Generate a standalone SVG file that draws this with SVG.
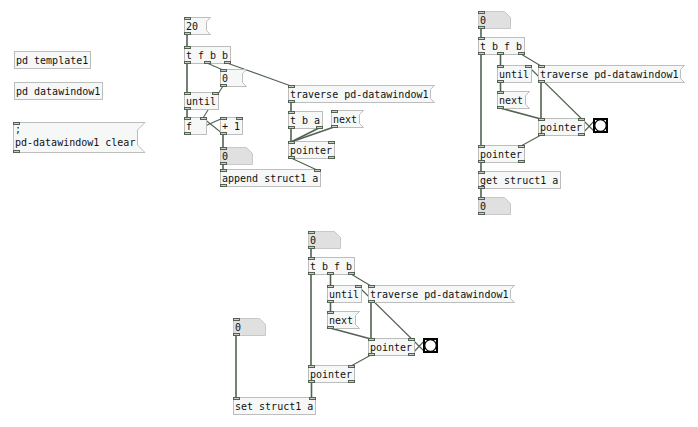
<svg xmlns="http://www.w3.org/2000/svg" width="698" height="427" viewBox="0 0 698 427">
<style>
.box{fill:#f6f8f8;stroke:#bdbdbd;stroke-width:1}
.atom{fill:#e0e0e0;stroke:#c8c8c8;stroke-width:1}
.io{fill:#c9d0c9;stroke:#536253;stroke-width:1}
.cord{stroke:#536253;stroke-width:1.6;fill:none}
.thin{stroke:#536253;stroke-width:1.1;fill:none}
text{font-family:"DejaVu Sans Mono","Liberation Mono",monospace;font-size:10px;fill:#111}
.bngbox{fill:#fff;stroke:#000;stroke-width:2}
.bngc{fill:#fff;stroke:#000;stroke-width:1.3}
</style>
<rect width="698" height="427" fill="#fff"/>

<g id="connectors">
<!-- patch 1 -->
<path class="cord" d="M187 34L187 47"/>
<path class="cord" d="M187 63L187 93"/>
<path class="thin" d="M207 63L223 70"/>
<path class="thin" d="M227 63L291 86"/>
<path class="thin" d="M223 86L203 118"/>
<path class="cord" d="M187 109L187 118"/>
<path class="thin" d="M187 134L223 118"/>
<path class="thin" d="M223 134L203 118"/>
<path class="cord" d="M223 134L223 148"/>
<path class="cord" d="M223 164L223 170"/>
<path class="cord" d="M291 102L291 112"/>
<path class="cord" d="M291 128L291 142"/>
<path class="cord" d="M319 128L291 142"/>
<path class="cord" d="M334 127L291 142"/>
<path class="thin" d="M291 158L317 170"/>
<!-- patch 2 -->
<path class="cord" d="M481 28L481 38"/>
<path class="cord" d="M481 54L481 146"/>
<path class="cord" d="M500.5 54L500.5 66"/>
<path class="thin" d="M521 54L541 66"/>
<path class="cord" d="M500.5 82L500.5 92"/>
<path class="cord" d="M500 108L541 119"/>
<path class="cord" d="M541 82L541 119"/>
<path class="thin" d="M541 135L521 146"/>
<path class="thin" d="M581 135L596 119"/>
<path class="thin" d="M596 133L528 66"/>
<path class="cord" d="M481 162L481 172"/>
<path class="cord" d="M481 188L481 198"/>
<!-- patch 3 -->
<path class="cord" d="M311 248L311 258"/>
<path class="cord" d="M311 274L311 366"/>
<path class="cord" d="M330.5 274L330.5 286"/>
<path class="thin" d="M351 274L371 286"/>
<path class="cord" d="M330.5 302L330.5 312"/>
<path class="cord" d="M330 328L371 339"/>
<path class="cord" d="M371 302L371 339"/>
<path class="thin" d="M371 355L351 366"/>
<path class="thin" d="M411 355L426 339"/>
<path class="thin" d="M426 353L358 286"/>
<path class="cord" d="M311.5 382L311.5 398"/>
<path class="cord" d="M236 335L236 398"/>
</g>

<!-- left column -->
<g id="pd_template1"><rect class="box" x="14.5" y="51.5" width="76" height="17"/><text x="16" y="64">pd template1</text></g>
<g id="pd_datawindow1"><rect class="box" x="14.5" y="82.5" width="88" height="17"/><text x="16" y="95">pd datawindow1</text></g>
<g id="msg_clear"><polygon class="box" points="13.5,122.5 145,122.5 137.5,130 137.5,145 145,152.5 13.5,152.5"/><rect class="io" x="13.5" y="122.5" width="6" height="2"/><rect class="io" x="13.5" y="150.5" width="6" height="2"/><text x="15" y="133">;</text><text x="15" y="146">pd-datawindow1 clear</text></g>

<!-- patch 1 -->
<g id="p1_msg20"><polygon class="box" points="184.5,17.5 210.5,17.5 206.5,21.5 206.5,30.5 210.5,34.5 184.5,34.5"/><rect class="io" x="184.5" y="17.5" width="6" height="2"/><rect class="io" x="184.5" y="32.5" width="6" height="2"/><text x="186" y="30">20</text></g>
<g id="p1_tfbb"><rect class="box" x="184.5" y="46.5" width="46" height="17"/><rect class="io" x="184.5" y="46.5" width="6" height="2"/><rect class="io" x="184.5" y="61.5" width="6" height="2"/><rect class="io" x="204.5" y="61.5" width="6" height="2"/><rect class="io" x="224.5" y="61.5" width="6" height="2"/><text x="186" y="59">t f b b</text></g>
<g id="p1_msg0"><polygon class="box" points="220.5,69.5 246.5,69.5 242.5,73.5 242.5,82.5 246.5,86.5 220.5,86.5"/><rect class="io" x="220.5" y="69.5" width="6" height="2"/><rect class="io" x="220.5" y="84.5" width="6" height="2"/><text x="222" y="82">0</text></g>
<g id="p1_until"><rect class="box" x="184.5" y="92.5" width="34" height="17"/><rect class="io" x="184.5" y="92.5" width="6" height="2"/><rect class="io" x="212.5" y="92.5" width="6" height="2"/><rect class="io" x="184.5" y="107.5" width="6" height="2"/><text x="186" y="105">until</text></g>
<g id="p1_f"><rect class="box" x="184.5" y="117.5" width="22" height="17"/><rect class="io" x="184.5" y="117.5" width="6" height="2"/><rect class="io" x="200.5" y="117.5" width="6" height="2"/><rect class="io" x="184.5" y="132.5" width="6" height="2"/><text x="186" y="130">f</text></g>
<g id="p1_plus1"><rect class="box" x="220.5" y="117.5" width="22" height="17"/><rect class="io" x="220.5" y="117.5" width="6" height="2"/><rect class="io" x="236.5" y="117.5" width="6" height="2"/><rect class="io" x="220.5" y="132.5" width="6" height="2"/><text x="222" y="130">+ 1</text></g>
<g id="p1_atom"><polygon class="atom" points="220.5,147.5 246.5,147.5 252.5,153.5 252.5,164.5 220.5,164.5"/><rect class="io" x="220.5" y="147.5" width="6" height="2"/><rect class="io" x="220.5" y="162.5" width="6" height="2"/><text x="222" y="160">0</text></g>
<g id="p1_append"><rect class="box" x="220.5" y="169.5" width="100" height="17"/><rect class="io" x="220.5" y="169.5" width="6" height="2"/><rect class="io" x="314.5" y="169.5" width="6" height="2"/><rect class="io" x="220.5" y="184.5" width="6" height="2"/><text x="222" y="182">append struct1 a</text></g>
<g id="p1_traverse"><polygon class="box" points="288.5,85.5 434.5,85.5 430.5,89.5 430.5,98.5 434.5,102.5 288.5,102.5"/><rect class="io" x="288.5" y="85.5" width="6" height="2"/><rect class="io" x="288.5" y="100.5" width="6" height="2"/><text x="290" y="98">traverse pd-datawindow1</text></g>
<g id="p1_tba"><rect class="box" x="288.5" y="111.5" width="34" height="17"/><rect class="io" x="288.5" y="111.5" width="6" height="2"/><rect class="io" x="288.5" y="126.5" width="6" height="2"/><rect class="io" x="316.5" y="126.5" width="6" height="2"/><text x="290" y="124">t b a</text></g>
<g id="p1_next"><polygon class="box" points="331.5,110.5 363.5,110.5 359.5,114.5 359.5,123.5 363.5,127.5 331.5,127.5"/><rect class="io" x="331.5" y="110.5" width="6" height="2"/><rect class="io" x="331.5" y="125.5" width="6" height="2"/><text x="333" y="123">next</text></g>
<g id="p1_pointer"><rect class="box" x="288.5" y="141.5" width="46" height="17"/><rect class="io" x="288.5" y="141.5" width="6" height="2"/><rect class="io" x="328.5" y="141.5" width="6" height="2"/><rect class="io" x="288.5" y="156.5" width="6" height="2"/><rect class="io" x="328.5" y="156.5" width="6" height="2"/><text x="290" y="154">pointer</text></g>

<!-- patch 2 -->
<g id="p2_atomA"><polygon class="atom" points="478.5,11.5 504.5,11.5 510.5,17.5 510.5,28.5 478.5,28.5"/><rect class="io" x="478.5" y="11.5" width="6" height="2"/><rect class="io" x="478.5" y="26.5" width="6" height="2"/><text x="480" y="24">0</text></g>
<g id="p2_tbfb"><rect class="box" x="478.5" y="37.5" width="46" height="17"/><rect class="io" x="478.5" y="37.5" width="6" height="2"/><rect class="io" x="478.5" y="52.5" width="6" height="2"/><rect class="io" x="497.5" y="52.5" width="6" height="2"/><rect class="io" x="518.5" y="52.5" width="6" height="2"/><text x="480" y="50">t b f b</text></g>
<g id="p2_until"><rect class="box" x="497.5" y="65.5" width="34" height="17"/><rect class="io" x="497.5" y="65.5" width="6" height="2"/><rect class="io" x="525.5" y="65.5" width="6" height="2"/><rect class="io" x="497.5" y="80.5" width="6" height="2"/><text x="499" y="78">until</text></g>
<g id="p2_traverse"><polygon class="box" points="538.5,65.5 684.5,65.5 680.5,69.5 680.5,78.5 684.5,82.5 538.5,82.5"/><rect class="io" x="538.5" y="65.5" width="6" height="2"/><rect class="io" x="538.5" y="80.5" width="6" height="2"/><text x="540" y="78">traverse pd-datawindow1</text></g>
<g id="p2_next"><polygon class="box" points="497.5,91.5 529.5,91.5 525.5,95.5 525.5,104.5 529.5,108.5 497.5,108.5"/><rect class="io" x="497.5" y="91.5" width="6" height="2"/><rect class="io" x="497.5" y="106.5" width="6" height="2"/><text x="499" y="104">next</text></g>
<g id="p2_pointerA"><rect class="box" x="538.5" y="118.5" width="46" height="17"/><rect class="io" x="538.5" y="118.5" width="6" height="2"/><rect class="io" x="578.5" y="118.5" width="6" height="2"/><rect class="io" x="538.5" y="133.5" width="6" height="2"/><rect class="io" x="578.5" y="133.5" width="6" height="2"/><text x="540" y="131">pointer</text></g>
<g id="p2_bng"><rect class="bngbox" x="594" y="119" width="13" height="13"/><circle class="bngc" cx="600.5" cy="125.5" r="5.8"/></g>
<g id="p2_pointerB"><rect class="box" x="478.5" y="145.5" width="46" height="17"/><rect class="io" x="478.5" y="145.5" width="6" height="2"/><rect class="io" x="518.5" y="145.5" width="6" height="2"/><rect class="io" x="478.5" y="160.5" width="6" height="2"/><rect class="io" x="518.5" y="160.5" width="6" height="2"/><text x="480" y="158">pointer</text></g>
<g id="p2_get"><rect class="box" x="478.5" y="171.5" width="82" height="17"/><rect class="io" x="478.5" y="171.5" width="6" height="2"/><rect class="io" x="478.5" y="186.5" width="6" height="2"/><text x="480" y="184">get struct1 a</text></g>
<g id="p2_atomB"><polygon class="atom" points="478.5,197.5 504.5,197.5 510.5,203.5 510.5,214.5 478.5,214.5"/><rect class="io" x="478.5" y="197.5" width="6" height="2"/><rect class="io" x="478.5" y="212.5" width="6" height="2"/><text x="480" y="210">0</text></g>

<!-- patch 3 -->
<g id="p3_atomA"><polygon class="atom" points="308.5,231.5 334.5,231.5 340.5,237.5 340.5,248.5 308.5,248.5"/><rect class="io" x="308.5" y="231.5" width="6" height="2"/><rect class="io" x="308.5" y="246.5" width="6" height="2"/><text x="310" y="244">0</text></g>
<g id="p3_tbfb"><rect class="box" x="308.5" y="257.5" width="46" height="17"/><rect class="io" x="308.5" y="257.5" width="6" height="2"/><rect class="io" x="308.5" y="272.5" width="6" height="2"/><rect class="io" x="327.5" y="272.5" width="6" height="2"/><rect class="io" x="348.5" y="272.5" width="6" height="2"/><text x="310" y="270">t b f b</text></g>
<g id="p3_until"><rect class="box" x="327.5" y="285.5" width="34" height="17"/><rect class="io" x="327.5" y="285.5" width="6" height="2"/><rect class="io" x="355.5" y="285.5" width="6" height="2"/><rect class="io" x="327.5" y="300.5" width="6" height="2"/><text x="329" y="298">until</text></g>
<g id="p3_traverse"><polygon class="box" points="368.5,285.5 514.5,285.5 510.5,289.5 510.5,298.5 514.5,302.5 368.5,302.5"/><rect class="io" x="368.5" y="285.5" width="6" height="2"/><rect class="io" x="368.5" y="300.5" width="6" height="2"/><text x="370" y="298">traverse pd-datawindow1</text></g>
<g id="p3_next"><polygon class="box" points="327.5,311.5 359.5,311.5 355.5,315.5 355.5,324.5 359.5,328.5 327.5,328.5"/><rect class="io" x="327.5" y="311.5" width="6" height="2"/><rect class="io" x="327.5" y="326.5" width="6" height="2"/><text x="329" y="324">next</text></g>
<g id="p3_pointerA"><rect class="box" x="368.5" y="338.5" width="46" height="17"/><rect class="io" x="368.5" y="338.5" width="6" height="2"/><rect class="io" x="408.5" y="338.5" width="6" height="2"/><rect class="io" x="368.5" y="353.5" width="6" height="2"/><rect class="io" x="408.5" y="353.5" width="6" height="2"/><text x="370" y="351">pointer</text></g>
<g id="p3_bng"><rect class="bngbox" x="424" y="339" width="13" height="13"/><circle class="bngc" cx="430.5" cy="345.5" r="5.8"/></g>
<g id="p3_pointerB"><rect class="box" x="308.5" y="365.5" width="46" height="17"/><rect class="io" x="308.5" y="365.5" width="6" height="2"/><rect class="io" x="348.5" y="365.5" width="6" height="2"/><rect class="io" x="308.5" y="380.5" width="6" height="2"/><rect class="io" x="348.5" y="380.5" width="6" height="2"/><text x="310" y="378">pointer</text></g>
<g id="p3_atomC"><polygon class="atom" points="233.5,318.5 259.5,318.5 265.5,324.5 265.5,335.5 233.5,335.5"/><rect class="io" x="233.5" y="318.5" width="6" height="2"/><rect class="io" x="233.5" y="333.5" width="6" height="2"/><text x="235" y="331">0</text></g>
<g id="p3_set"><rect class="box" x="233.5" y="397.5" width="82" height="17"/><rect class="io" x="233.5" y="397.5" width="6" height="2"/><rect class="io" x="309.5" y="397.5" width="6" height="2"/><text x="235" y="410">set struct1 a</text></g>
</svg>
